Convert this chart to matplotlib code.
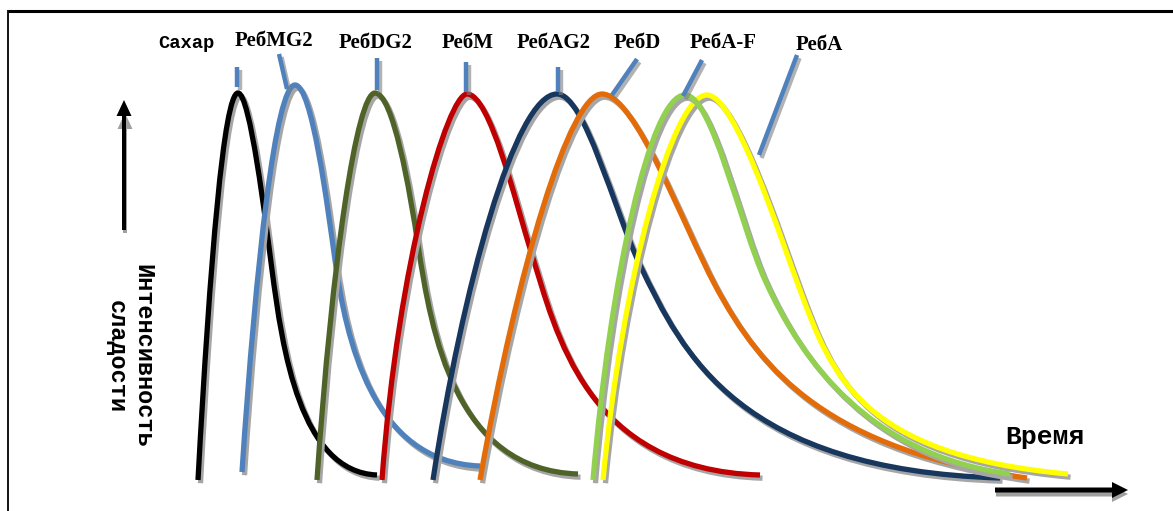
import matplotlib.pyplot as plt
from matplotlib.path import Path
from matplotlib.patches import PathPatch, FancyArrow
from matplotlib.transforms import Bbox, TransformedBbox
import matplotlib.patheffects as pe

# curve control points (pixel coords, y down)
# start, c, c, peak, c, c, inflection, c, c, end
names = ['Сахароза', 'РебMG2', 'РебDG2', 'РебM', 'РебAG2', 'РебD', 'РебA-F', 'РебA']
colors = ['#000000', '#4F81BD', '#4F6228', '#C00000', '#17375E', '#E36C09', '#92D050', '#FFFF00']
curves = [
    [(198, 480), (210, 260), (224, 93), (238, 93), (250, 93), (265.5, 220.5), (272, 270),
     (282.4, 349), (300, 472), (377, 475)],
    [(242, 472), (256, 260), (276, 85), (295, 85), (312, 85), (327.3, 205.5), (335, 260),
     (346, 339), (372, 462), (480, 466)],
    [(317, 480), (332, 260), (357, 93), (375, 93), (393, 93), (409.8, 190.5), (418, 245),
     (431.5, 334), (455, 470), (578, 474)],
    [(382, 480), (398, 260), (448, 94), (467, 94), (490, 94), (515.5, 202.5), (532, 255),
     (556, 331), (585, 470), (760, 475)],
    [(433, 480), (462, 290), (515, 94), (557, 94), (585, 94), (614, 211), (640, 265),
     (683, 355), (740, 470), (1000, 478)],
    [(480, 480), (518, 265), (570, 94), (602, 94), (635, 94), (682, 223), (715, 285),
     (762, 373), (830, 450), (1027, 478)],
    [(593, 480), (610, 280), (650, 95), (685, 95), (712, 95), (740, 225), (765, 280),
     (802, 362), (870, 455), (1010, 474)],
    [(603, 480), (622, 280), (672, 95), (707, 95), (735, 95), (779, 233.6), (800, 290),
     (831.5, 374.6), (860, 455), (1068, 474)],
]
draw_order = [0, 1, 2, 3, 4, 5, 7, 6]

# label text positions and pointer lines (from, to)
label_xy = [(158, 43), (274, 41), (376, 43), (468, 43), (554, 43), (637, 43), (723, 43), (819, 45)]
pointers = [
    [(237, 67), (237, 87)],
    [(279, 54), (287, 89)],
    [(377, 58), (377, 90)],
    [(466, 62), (466, 92)],
    [(558, 67), (558, 92)],
    [(637, 59), (612, 95)],
    [(702, 60), (683, 96)],
    [(797, 55), (759, 155)],
]

fig = plt.figure(figsize=(11.73, 5.11), dpi=100)
ax = fig.add_axes([0, 0, 1, 1])
ax.set_xlim(0, 1173)
ax.set_ylim(511, 0)
ax.axis('off')

shadow = [pe.SimpleLineShadow(offset=(1.8, -2.2), shadow_color='#808080', alpha=0.6), pe.Normal()]

# frame
ax.plot([8, 1173], [11, 11], color='black', lw=2.2, solid_capstyle='butt')
ax.plot([8, 8], [10, 511], color='black', lw=1.3, solid_capstyle='butt')

codes = [Path.MOVETO] + [Path.CURVE4] * 9
for i in draw_order:
    pts, c = curves[i], colors[i]
    sh = PathPatch(Path([(x + 2.5, y + 3.2) for x, y in pts], codes), facecolor='none',
                   edgecolor='#a6a6a6', lw=3.8, capstyle='butt')
    ax.add_patch(sh)
    ax.add_patch(PathPatch(Path(pts, codes), facecolor='none', edgecolor=c, lw=3.8,
                           capstyle='butt'))

for (a, b) in pointers:
    ax.plot([a[0], b[0]], [a[1], b[1]], color='#4F81BD', lw=3.2,
            solid_capstyle='butt', path_effects=shadow)

for i, (name, (x, y)) in enumerate(zip(names, label_xy)):
    if i == 0:
        t = ax.text(x, y, name, fontsize=13.5, fontweight='bold', family='Liberation Mono',
                    ha='left', va='center')
        t.set_clip_box(TransformedBbox(Bbox([[150, 20], [215, 65]]), ax.transData))
        t.set_clip_on(True)
    else:
        ax.text(x, y, name, fontsize=15, fontweight='bold', family='Liberation Serif',
                ha='center', va='center')

# axis arrows
ax.add_patch(FancyArrow(125, 233, 0, -120, width=4, head_width=15, head_length=16,
                        length_includes_head=True, color='#a0a0a0', lw=0))
ax.add_patch(FancyArrow(124, 230, 0, -130, width=4, head_width=15, head_length=16,
                        length_includes_head=True, color='black', lw=0))
ax.add_patch(FancyArrow(996, 494, 132, 0, width=5, head_width=16, head_length=16,
                        length_includes_head=True, color='#a0a0a0', lw=0))
ax.add_patch(FancyArrow(995, 490, 133, 0, width=5, head_width=16, head_length=16,
                        length_includes_head=True, color='black', lw=0))

ax.text(1045, 437, 'Время', fontsize=19, fontweight='bold', family='Liberation Mono',
        ha='center', va='center')
ax.text(130, 356, 'Интенсивность\nсладости', fontsize=17, fontweight='bold',
        family='Liberation Mono', rotation=-90, ha='center', va='center',
        multialignment='center', linespacing=1.2)

fig.savefig('out.png', dpi=100)
